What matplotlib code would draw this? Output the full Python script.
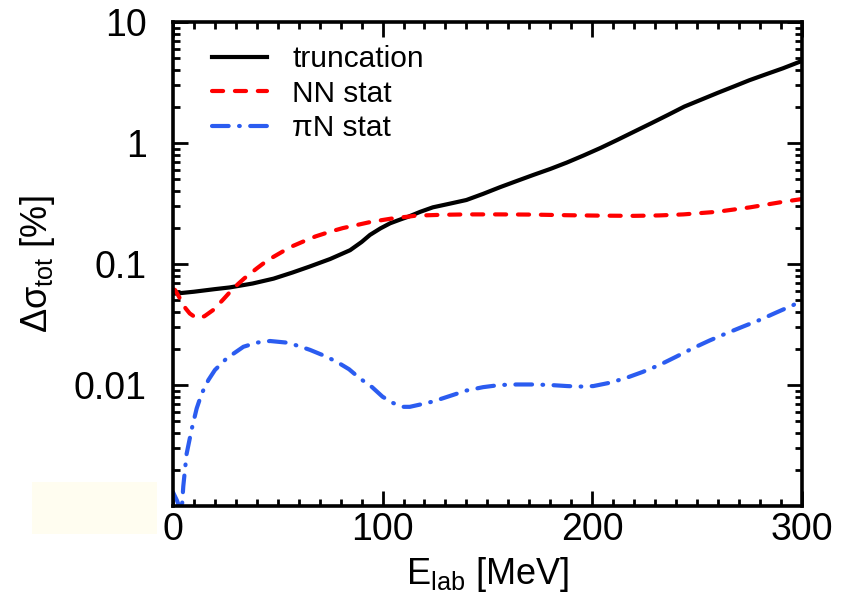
import matplotlib
matplotlib.use("Agg")
import matplotlib.pyplot as plt
from matplotlib.patches import Rectangle
from matplotlib.ticker import FixedLocator, NullFormatter, LogLocator

plt.rcParams['font.family'] = ['Liberation Sans', 'DejaVu Sans']
plt.rcParams['mathtext.fontset'] = 'custom'
plt.rcParams['mathtext.rm'] = 'Liberation Sans'
plt.rcParams['mathtext.it'] = 'Liberation Sans:italic'
plt.rcParams['lines.scale_dashes'] = False

# truncation
E_trunc = [0, 1.5, 10, 20, 27, 38, 48, 57, 65, 75, 84.5, 90, 94, 99, 103.6, 108.4, 112.3, 118,
           124, 132, 140, 148, 156, 164, 172, 180, 188, 196, 204, 212, 220, 228, 236, 244,
           252, 260, 268, 275, 283, 291, 300]
v_trunc = [0.057, 0.057, 0.059, 0.062, 0.064, 0.069, 0.0757, 0.085, 0.095, 0.11, 0.13, 0.152,
           0.174, 0.197, 0.217, 0.233, 0.246, 0.27, 0.294, 0.315, 0.338, 0.38, 0.431, 0.485,
           0.545, 0.61, 0.69, 0.79, 0.91, 1.06, 1.24, 1.45, 1.70, 2.0, 2.28, 2.6, 2.95, 3.3,
           3.7, 4.14, 4.76]

# NN stat
E_nn = [0, 1, 3.3, 6, 8, 11.3, 15, 19.2, 24, 28.8, 34, 40, 45, 51, 56, 62, 68, 75, 81, 87.7,
        94, 100, 106, 112, 116, 128, 140, 156, 172, 188, 204, 220, 232, 243.6, 259.5, 275.4,
        291.3, 300]
v_nn = [0.062, 0.061, 0.052, 0.043, 0.039, 0.0356, 0.037, 0.0417, 0.051, 0.063, 0.076, 0.092,
        0.107, 0.123, 0.138, 0.153, 0.169, 0.185, 0.198, 0.21, 0.222, 0.231, 0.24, 0.246,
        0.251, 0.255, 0.257, 0.257, 0.256, 0.253, 0.251, 0.25, 0.252, 0.257, 0.27, 0.294,
        0.327, 0.344]

# piN stat
E_pin = [0, 2, 3.5, 4.3, 4.9, 6.5, 8.9, 11.3, 13.7, 16.9, 20, 25.6, 33.6, 40, 46.3, 54.3,
         60, 65.4, 72, 78, 84, 89, 95, 100, 105, 110, 113, 118, 124, 132, 140, 148, 156, 164,
         172, 180, 188, 194, 200.6, 208, 216, 224, 232, 240, 248, 256, 264, 272, 280, 288,
         296, 300]
v_pin = [0.0013, 0.0011, 0.00092, 0.001, 0.00145, 0.0027, 0.0043, 0.0064, 0.0085, 0.011,
         0.0133, 0.0166, 0.0207, 0.0224, 0.0231, 0.0224, 0.021, 0.0195, 0.0175, 0.0156,
         0.0135, 0.0114, 0.0096, 0.008, 0.0071, 0.0066, 0.0066, 0.0069, 0.0073, 0.0081,
         0.009, 0.0096, 0.01, 0.0101, 0.0101, 0.01, 0.0098, 0.0097, 0.0098, 0.0104, 0.0114,
         0.0128, 0.0146, 0.0171, 0.0201, 0.0233, 0.0267, 0.0304, 0.0345, 0.0398, 0.0458,
         0.05]

labels = ['truncation', 'NN stat', 'πN stat']
ytick_vals = [0.01, 0.1, 1, 10]
ytick_labels = ['0.01', '0.1', '1', '10']
xtick_vals = [0, 100, 200, 300]

fig = plt.figure(figsize=(8.5, 5.94), dpi=100)
fig.patches.append(Rectangle((32/850, 1-534/594), 125/850, 52/594, transform=fig.transFigure,
                             facecolor='#fffdf0', edgecolor='none', zorder=0))
ax = fig.add_axes([173/850, 1-506/594, 628.7/850, 484/594])

ax.plot(E_trunc, v_trunc, color='black', lw=3.0, label=labels[0], solid_joinstyle='round')
ax.plot(E_nn, v_nn, color='#ff0000', lw=3.0, dashes=(8.0, 8.5), dash_capstyle='round',
        label=labels[1])
ax.plot(E_pin, v_pin, color='#2b5cf0', lw=3.0, dashes=(12.0, 7.5, 0.5, 7.5),
        dash_capstyle='round', label=labels[2])

ax.set_yscale('log')
ax.set_xlim(0, 300)
ax.set_ylim(0.001, 10)
ax.set_yticks(ytick_vals)
ax.set_yticklabels(ytick_labels)
ax.yaxis.set_minor_locator(LogLocator(base=10, subs=range(2, 10)))
ax.yaxis.set_minor_formatter(NullFormatter())
ax.set_xticks(xtick_vals)
ax.xaxis.set_minor_locator(FixedLocator(range(0, 301, 10)))

for s in ax.spines.values():
    s.set_linewidth(2.6)
ax.tick_params(which='both', direction='in', top=True, right=True, width=2.0)
ax.tick_params(which='major', length=10.8, labelsize=27)
ax.tick_params(axis='y', which='major', pad=19)
ax.tick_params(axis='x', which='major', pad=4)
ax.tick_params(which='minor', length=5)

ax.set_xlabel('E$_{\\mathrm{lab}}$ [MeV]', fontsize=26, labelpad=5)
ax.set_ylabel('Δσ$_{\\mathrm{tot}}$ [%]', fontsize=26, labelpad=12)

leg = ax.legend(loc='upper left', bbox_to_anchor=(0.0616, 0.952), frameon=False,
                fontsize=21.5, handlelength=1.85, handletextpad=0.85, labelspacing=0.22,
                borderpad=0, borderaxespad=0)

fig.savefig('out.png', dpi=100)
